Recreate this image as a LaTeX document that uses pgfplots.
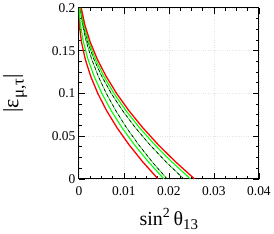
\documentclass[border=0pt]{standalone}
\usepackage{fontspec}
\setmainfont{Liberation Serif}
\usepackage{pgfplots}
\pgfplotsset{compat=1.18}
\begin{document}
\begin{tikzpicture}
\begin{axis}[
  scale only axis,
  width=181pt, height=172pt,
  xmin=0, xmax=0.04, ymin=0, ymax=0.2,
  scaled x ticks=false, scaled y ticks=false,
  xtick={0,0.01,0.02,0.03,0.04},
  ytick={0,0.05,0.1,0.15,0.2},
  xticklabels={0,0.01,0.02,0.03,0.04},
  yticklabels={0,0.05,0.1,0.15,0.2},
  minor x tick num=3, minor y tick num=3,
  tick align=inside,
  major tick length=6pt, minor tick length=3pt,
  axis line style={line width=1pt},
  every tick/.style={black, line width=0.8pt},
  grid=major,
  major grid style={gray!20, dotted, line width=0.4pt},
  tick label style={font=\fontsize{13.5}{15}\selectfont},
  xticklabel style={yshift=-4pt},
  xlabel={\fontsize{20}{22}\selectfont sin\textsuperscript{2}\,θ\raisebox{-0.5ex}{\fontsize{15}{17}\selectfont 13}},
  ylabel={\fontsize{22}{24}\selectfont |ε\raisebox{-0.5ex}{\fontsize{17}{19}\selectfont μ,τ}|},
  xlabel style={yshift=-6pt},
  ylabel style={yshift=18pt},
  clip=true,
]
% left red
\addplot[red, line width=1.3pt] coordinates {(0.0176,0) (0.01418,0.02) (0.01114,0.04) (0.00846,0.06) (0.00614,0.08) (0.00420,0.10) (0.00262,0.12) (0.00142,0.14) (0.00058,0.16) (0.00011,0.18) (0,0.1955)};
% left green
\addplot[green, line width=1.1pt] coordinates {(0.0189,0) (0.01544,0.02) (0.01233,0.04) (0.00957,0.06) (0.00716,0.08) (0.00510,0.10) (0.00338,0.12) (0.00202,0.14) (0.00101,0.16) (0.00034,0.18) (0.000028,0.20)};
% left dashed
\addplot[green!80!black, line width=0.6pt] coordinates {(0.0196,0) (0.01628,0.02) (0.01328,0.04) (0.01057,0.06) (0.00818,0.08) (0.00609,0.10) (0.00431,0.12) (0.00284,0.14) (0.00167,0.16) (0.00081,0.18) (0.00026,0.20)};
\addplot[black, dashed, line width=0.6pt] coordinates {(0.0196,0) (0.01628,0.02) (0.01328,0.04) (0.01057,0.06) (0.00818,0.08) (0.00609,0.10) (0.00431,0.12) (0.00284,0.14) (0.00167,0.16) (0.00081,0.18) (0.00026,0.20)};
% right dashed
\addplot[green!80!black, line width=0.6pt] coordinates {(0.0233,0) (0.01935,0.02) (0.01576,0.04) (0.01254,0.06) (0.00969,0.08) (0.00720,0.10) (0.00508,0.12) (0.00333,0.14) (0.00195,0.16) (0.00094,0.18) (0.00029,0.20)};
\addplot[black, dashed, line width=0.6pt] coordinates {(0.0233,0) (0.01935,0.02) (0.01576,0.04) (0.01254,0.06) (0.00969,0.08) (0.00720,0.10) (0.00508,0.12) (0.00333,0.14) (0.00195,0.16) (0.00094,0.18) (0.00029,0.20)};
% right green
\addplot[green, line width=1.1pt] coordinates {(0.0248,0) (0.02064,0.02) (0.01685,0.04) (0.01345,0.06) (0.01044,0.08) (0.00780,0.10) (0.00555,0.12) (0.00368,0.14) (0.00219,0.16) (0.00109,0.18) (0.00037,0.20)};
% right red
\addplot[red, line width=1.3pt] coordinates {(0.0257,0) (0.02148,0.02) (0.01763,0.04) (0.01417,0.06) (0.01108,0.08) (0.00837,0.10) (0.00605,0.12) (0.00409,0.14) (0.00252,0.16) (0.00133,0.18) (0.00052,0.20)};
\end{axis}
\end{tikzpicture}
\end{document}
